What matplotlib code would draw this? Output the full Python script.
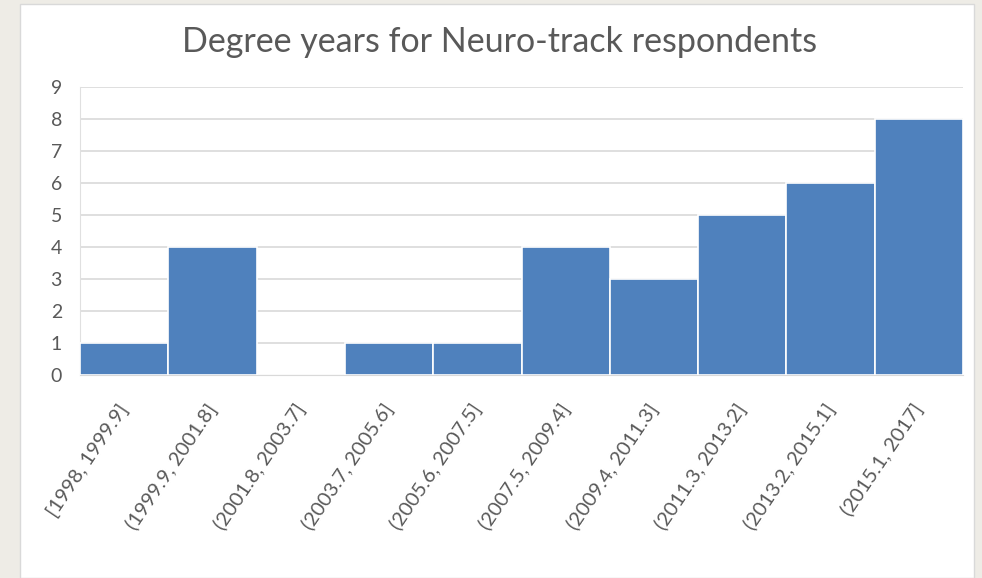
import matplotlib
matplotlib.use("Agg")
import matplotlib.pyplot as plt
from matplotlib.patches import Rectangle

categories = ["[1998, 1999.9]", "(1999.9, 2001.8]", "(2001.8, 2003.7]", "(2003.7, 2005.6]",
              "(2005.6, 2007.5]", "(2007.5, 2009.4]", "(2009.4, 2011.3]", "(2011.3, 2013.2]",
              "(2013.2, 2015.1]", "(2015.1, 2017]"]
counts = [1, 4, 0, 1, 1, 4, 3, 5, 6, 8]
title = "Degree years for Neuro-track respondents"

W, H = 982, 578
fig = plt.figure(figsize=(W / 100, H / 100), dpi=100, facecolor="#EEECE6")
fig.patches.append(Rectangle((20 / W, 0), (974 - 20) / W, 1 - 4 / H, transform=fig.transFigure,
                             facecolor="white", edgecolor="#D9D9D9", linewidth=1, zorder=-10))

ax = fig.add_axes([80 / W, 1 - 375 / H, (963 - 80) / W, (375 - 87) / H])
ax.set_facecolor("none")
x = list(range(len(categories)))
ax.bar(x, counts, width=1.0, color="#4F81BD", edgecolor="white", linewidth=1.2, zorder=3)
ax.set_xlim(-0.5, len(categories) - 0.5)
ax.set_ylim(0, 9)
ax.set_yticks(range(0, 10))
ax.yaxis.grid(True, color="#D9D9D9", linewidth=1.2, zorder=0)
ax.set_axisbelow(True)
for s in ["top", "right"]:
    ax.spines[s].set_visible(False)
ax.spines["left"].set_color("#E0E0E0")
ax.spines["bottom"].set_color("#D9D9D9")
ax.tick_params(length=0, colors="#595959", labelsize=14)
ax.tick_params(axis="y", pad=13)
for lab in ax.get_yticklabels():
    lab.set_fontfamily("Lato")
ax.set_xticks(x)
ax.set_xticklabels(categories, rotation=56, ha="right", va="center", rotation_mode="anchor",
                   fontfamily="Lato", fontsize=14.5, color="#595959")
ax.tick_params(axis="x", pad=22)
fig.text(500 / W, 1 - 42 / H, title, ha="center", va="center", fontsize=24.5,
         color="#595959", fontfamily="Lato")
fig.savefig("out.png", dpi=100, facecolor=fig.get_facecolor())
